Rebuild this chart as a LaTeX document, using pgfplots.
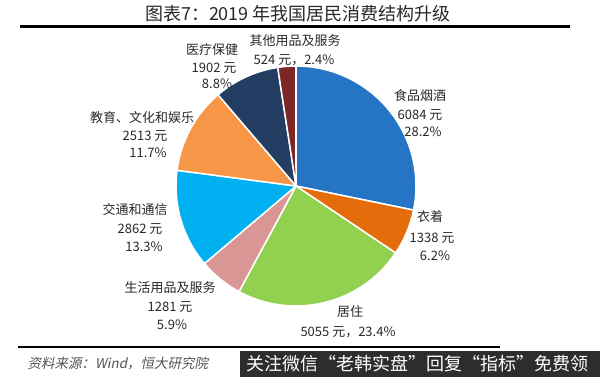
\documentclass[border=0pt]{standalone}
\usepackage{fontspec}
\setmainfont{Noto Sans CJK SC}
\newfontfamily\cjkit[FakeSlant=0.2]{Noto Sans CJK SC}
\usepackage{pgfplots}
\usepackage{pgfplotstable}
\pgfplotsset{compat=1.18}
\definecolor{c1}{RGB}{38,117,196}
\definecolor{c2}{RGB}{228,108,10}
\definecolor{c3}{RGB}{146,208,80}
\definecolor{c4}{RGB}{217,150,148}
\definecolor{c5}{RGB}{0,176,240}
\definecolor{c6}{RGB}{247,150,70}
\definecolor{c7}{RGB}{36,62,99}
\definecolor{c8}{RGB}{124,38,38}
\definecolor{txt}{RGB}{40,40,40}
\definecolor{wm}{RGB}{45,45,45}

% 2019 per-capita consumption by category (yuan)
\pgfplotstableread[col sep=comma]{
value,color
6084,c1
1338,c2
5055,c3
1281,c4
2862,c5
2513,c6
1902,c7
524,c8
}\piedata

\begin{document}
\begin{tikzpicture}
% compute slice angles from the data (start at 90 deg, clockwise)
\def\total{0}
\pgfplotsforeachungrouped \i in {0,...,7}{%
  \pgfplotstablegetelem{\i}{value}\of\piedata
  \edef\total{\the\numexpr\total+\pgfplotsretval\relax}%
}
\def\cur{90}
\pgfplotsforeachungrouped \i in {0,...,7}{%
  \pgfplotstablegetelem{\i}{value}\of\piedata
  \edef\share{\the\numexpr 36000*\pgfplotsretval/\total\relax}%
  \pgfmathsetmacro\nxt{\cur-\share/100}%
  \expandafter\let\csname sa\i\endcsname\cur
  \expandafter\let\csname ea\i\endcsname\nxt
  \let\cur\nxt
  \pgfplotstablegetelem{\i}{color}\of\piedata
  \expandafter\let\csname col\i\endcsname\pgfplotsretval
}
\begin{axis}[
  scale only axis, width=600pt, height=377pt,
  xmin=0, xmax=600, ymin=0, ymax=377, y dir=reverse,
  hide axis, clip=false,
]
\path (axis cs:0,0) rectangle (axis cs:600,377);
\pgfplotsinvokeforeach{0,...,7}{%
  \edef\temp{\noexpand\fill[\csname col#1\endcsname, draw=white, line width=1.5pt, line join=round]
    (axis cs:296,186) -- ++(\csname sa#1\endcsname:120pt)
    arc[start angle=\csname sa#1\endcsname, end angle=\csname ea#1\endcsname, radius=120pt] -- cycle;}%
  \temp
}
% title and rules
\node[font=\fontsize{18}{20}\selectfont, text=txt] at (axis cs:298,14) {图表7：2019 年我国居民消费结构升级};
\draw[line width=3pt] (axis cs:20,27) -- (axis cs:570,27);
\draw[line width=2pt] (axis cs:18,347) -- (axis cs:500,347);
% labels
\begin{scope}[every node/.style={font=\fontsize{13}{15}\selectfont, text=txt}]
\node at (axis cs:420,96) {食品烟酒};
\node at (axis cs:420,115) {6084 元};
\node at (axis cs:423,132) {28.2\%};
\node at (axis cs:430,217) {衣着};
\node at (axis cs:432,238) {1338 元};
\node at (axis cs:435,256) {6.2\%};
\node at (axis cs:350,312) {居住};
\node at (axis cs:348,332) {5055 元，23.4\%};
\node at (axis cs:170,288) {生活用品及服务};
\node at (axis cs:170,307) {1281 元};
\node at (axis cs:172,325) {5.9\%};
\node at (axis cs:135,210) {交通和通信};
\node at (axis cs:140,229) {2862 元};
\node at (axis cs:144,247) {13.3\%};
\node at (axis cs:142,118) {教育、文化和娱乐};
\node at (axis cs:145,136) {2513 元};
\node at (axis cs:148,153) {11.7\%};
\node at (axis cs:212,50) {医疗保健};
\node at (axis cs:214,68) {1902 元};
\node at (axis cs:217,84) {8.8\%};
\node at (axis cs:295,41) {其他用品及服务};
\node at (axis cs:294,60) {524 元，2.4\%};
\end{scope}
% footer
\node[anchor=west, font=\cjkit\fontsize{13.5}{15}\selectfont, text=txt!80] at (axis cs:24,363) {资料来源：Wind，恒大研究院};
\fill[wm] (axis cs:240,351) rectangle (axis cs:600,377);
\node[anchor=west, font=\fontsize{18}{20}\selectfont, text=white, inner sep=0pt] at (axis cs:246,364) {关注微信“老韩实盘”回复“指标”免费领};
\end{axis}
\end{tikzpicture}
\end{document}
